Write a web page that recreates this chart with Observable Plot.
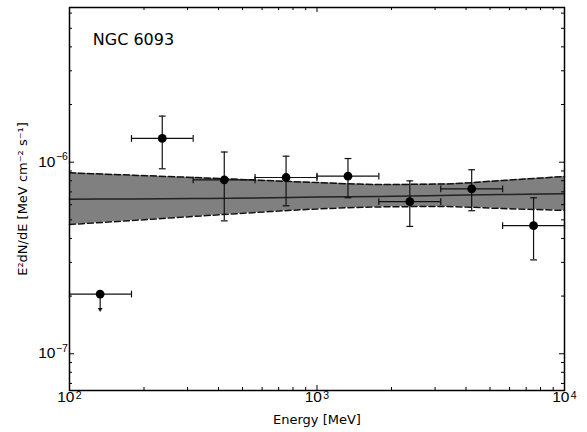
<!DOCTYPE html>
<html>
<head>
<meta charset="utf-8">
<script src="https://cdn.jsdelivr.net/npm/d3@7"></script>
<script src="https://cdn.jsdelivr.net/npm/@observablehq/plot@0.6"></script>
<style>
  html, body { margin: 0; padding: 0; background: #fff; }
  #chart svg { display: block; }
</style>
</head>
<body>
<div id="chart"></div>
<script>
// Spectral energy distribution of NGC 6093: binned fluxes and power-law fit band.

// Energy bins [MeV]
const binLo  = [100, 178, 316, 562, 1000, 1778, 3162, 5623];
const binHi  = [178, 316, 562, 1000, 1778, 3162, 5623, 10000];
const energy = [133, 237, 422, 750, 1334, 2371, 4217, 7499];

// E^2 dN/dE [MeV cm^-2 s^-1]; first bin is an upper limit
const flux   = [2.05e-7, 1.33e-6, 8.09e-7, 8.32e-7, 8.45e-7, 6.23e-7, 7.26e-7, 4.66e-7];
const fluxLo = [null, 9.24e-7, 4.94e-7, 5.92e-7, 6.52e-7, 4.62e-7, 5.58e-7, 3.09e-7];
const fluxHi = [null, 1.74e-6, 1.13e-6, 1.075e-6, 1.045e-6, 7.99e-7, 9.13e-7, 6.52e-7];
const isUpperLimit = [true, false, false, false, false, false, false, false];

// Fitted spectrum and its 1-sigma butterfly
const bandE   = [100, 178, 316, 562, 1000, 1778, 3162, 5623, 10000];
const bandHi  = [8.80e-7, 8.56e-7, 8.32e-7, 8.07e-7, 7.83e-7, 7.65e-7, 7.69e-7, 8.03e-7, 8.42e-7];
const bandMid = [6.41e-7, 6.43e-7, 6.46e-7, 6.50e-7, 6.58e-7, 6.62e-7, 6.70e-7, 6.78e-7, 6.84e-7];
const bandLo  = [4.73e-7, 4.96e-7, 5.21e-7, 5.46e-7, 5.70e-7, 5.84e-7, 5.87e-7, 5.73e-7, 5.60e-7];

// Axis ticks
const xMajor = [1e2, 1e3, 1e4];
const xMinor = [200, 300, 400, 500, 600, 700, 800, 900, 2000, 3000, 4000, 5000, 6000, 7000, 8000, 9000];
const yMajor = [1e-7, 1e-6];
const yMinor = [7e-8, 8e-8, 9e-8, 2e-7, 3e-7, 4e-7, 5e-7, 6e-7, 7e-7, 8e-7, 9e-7, 2e-6, 3e-6, 4e-6, 5e-6, 6e-6];

const title = "NGC 6093";
const xLabel = "Energy [MeV]";
const yLabel = "E²dN/dE [MeV cm⁻² s⁻¹]";

// Tables
const points = energy.map((e, i) => ({
  e, v: flux[i], lo: fluxLo[i], hi: fluxHi[i], elo: binLo[i], ehi: binHi[i], ul: isUpperLimit[i]
}));
const measured = points.filter(d => !d.ul);
const limits = points.filter(d => d.ul);
const band = bandE.map((e, i) => ({e, lo: bandLo[i], mid: bandMid[i], hi: bandHi[i]}));

const W = 587, H = 432;
const margin = {top: 7, right: 23, bottom: 42, left: 69};
const plotH = H - margin.top - margin.bottom;
const plotW = W - margin.left - margin.right;
const majorLen = 5, minorLen = 3;
const ink = "#111";
const tickFont = "'Liberation Sans', Arial, sans-serif";
const labelFont = "'DejaVu Sans', sans-serif";
const arrowDrop = 0.832; // stem length of upper-limit arrows (fraction of value)

// Short line symbols used for error bar caps
const capH = {draw(ctx, size) { const r = Math.sqrt(size / Math.PI); ctx.moveTo(-r, 0); ctx.lineTo(r, 0); }};
const capV = {draw(ctx, size) { const r = Math.sqrt(size / Math.PI); ctx.moveTo(0, -r); ctx.lineTo(0, r); }};

const yCaps = measured.flatMap(d => [{e: d.e, v: d.lo}, {e: d.e, v: d.hi}]);
const xCaps = points.flatMap(d => [{e: d.elo, v: d.v}, {e: d.ehi, v: d.v}]);

const inward = (vals, side, len) => {
  const o = {stroke: "black", strokeWidth: 1};
  if (side === "bottom") return Plot.ruleX(vals, {x: d => d, insetTop: plotH - len, ...o});
  if (side === "top") return Plot.ruleX(vals, {x: d => d, insetBottom: plotH - len, ...o});
  if (side === "left") return Plot.ruleY(vals, {y: d => d, insetRight: plotW - len, ...o});
  return Plot.ruleY(vals, {y: d => d, insetLeft: plotW - len, ...o});
};

const chart = Plot.plot({
  width: W,
  height: H,
  marginTop: margin.top,
  marginRight: margin.right,
  marginBottom: margin.bottom,
  marginLeft: margin.left,
  style: {background: "#fff", fontFamily: labelFont},
  x: {type: "log", domain: [100, 1e4], axis: null},
  y: {type: "log", domain: [6.43e-8, 6.42e-6], axis: null},
  marks: [
    // fit butterfly
    Plot.areaY(band, {x: "e", y1: "lo", y2: "hi", fill: "#808080", curve: "monotone-x"}),
    Plot.line(band, {x: "e", y: "hi", stroke: ink, strokeWidth: 1.5, strokeDasharray: "6,3", curve: "monotone-x"}),
    Plot.line(band, {x: "e", y: "lo", stroke: ink, strokeWidth: 1.5, strokeDasharray: "6,3", curve: "monotone-x"}),
    Plot.line(band, {x: "e", y: "mid", stroke: "#222", strokeWidth: 1.5, curve: "monotone-x"}),

    // error bars
    Plot.ruleY(points, {y: "v", x1: "elo", x2: "ehi", stroke: ink, strokeWidth: 1.2}),
    Plot.ruleX(measured, {x: "e", y1: "lo", y2: "hi", stroke: ink, strokeWidth: 1.2}),
    Plot.dot(yCaps, {x: "e", y: "v", symbol: capH, r: 3.4, fill: "none", stroke: ink, strokeWidth: 1.2}),
    Plot.dot(xCaps, {x: "e", y: "v", symbol: capV, r: 3.4, fill: "none", stroke: ink, strokeWidth: 1.2}),

    // upper limits
    Plot.ruleX(limits, {x: "e", y1: "v", y2: d => d.v * arrowDrop, stroke: ink, strokeWidth: 1.2}),
    Plot.dot(limits, {x: "e", y: d => d.v * arrowDrop, symbol: "triangle2", rotate: 180, r: 2.3, fill: ink}),

    // data points
    Plot.dot(points, {x: "e", y: "v", r: 4.4, fill: "black"}),

    // frame and inward ticks on all sides
    Plot.frame({stroke: "black", strokeWidth: 1.5}),
    inward(xMajor, "bottom", majorLen), inward(xMinor, "bottom", minorLen),
    inward(xMajor, "top", majorLen), inward(xMinor, "top", minorLen),
    inward(yMajor, "left", majorLen), inward(yMinor, "left", minorLen),
    inward(yMajor, "right", majorLen), inward(yMinor, "right", minorLen),

    // tick labels: base and exponent
    Plot.text(xMajor, {x: d => d, frameAnchor: "bottom", text: () => "10", textAnchor: "end", dx: 5, dy: 11.7,
      fontSize: 15.5, fontFamily: tickFont, fill: "black"}),
    Plot.text(xMajor, {x: d => d, frameAnchor: "bottom", text: d => String(Math.round(Math.log10(d))), textAnchor: "start", dx: 6.3, dy: 8.4,
      fontSize: 10.5, fontFamily: tickFont, fill: "black"}),
    Plot.text(yMajor, {y: d => d, frameAnchor: "left", text: () => "10", textAnchor: "end", dx: -14, dy: -0.5,
      fontSize: 15.5, fontFamily: tickFont, fill: "black"}),
    Plot.text(yMajor, {y: d => d, frameAnchor: "left", text: d => "\u2212" + String(Math.round(-Math.log10(d))), textAnchor: "start", dx: -13.6, dy: -5.5,
      fontSize: 10.5, fontFamily: tickFont, fill: "black"}),

    // axis titles and label
    Plot.text([xLabel], {frameAnchor: "bottom", text: d => d, textAnchor: "middle", dy: 33, fontSize: 13, fontFamily: labelFont, fill: "black"}),
    Plot.text([yLabel], {frameAnchor: "left", text: d => d, textAnchor: "middle", rotate: -90, dx: -47, fontSize: 13, fontFamily: labelFont, fill: "black"}),
    Plot.text([title], {frameAnchor: "top-left", text: d => d, textAnchor: "start", dx: 23.3, dy: 26, fontSize: 16, fontFamily: labelFont, fill: "black"})
  ]
});

document.getElementById("chart").appendChild(chart);
</script>
</body>
</html>
